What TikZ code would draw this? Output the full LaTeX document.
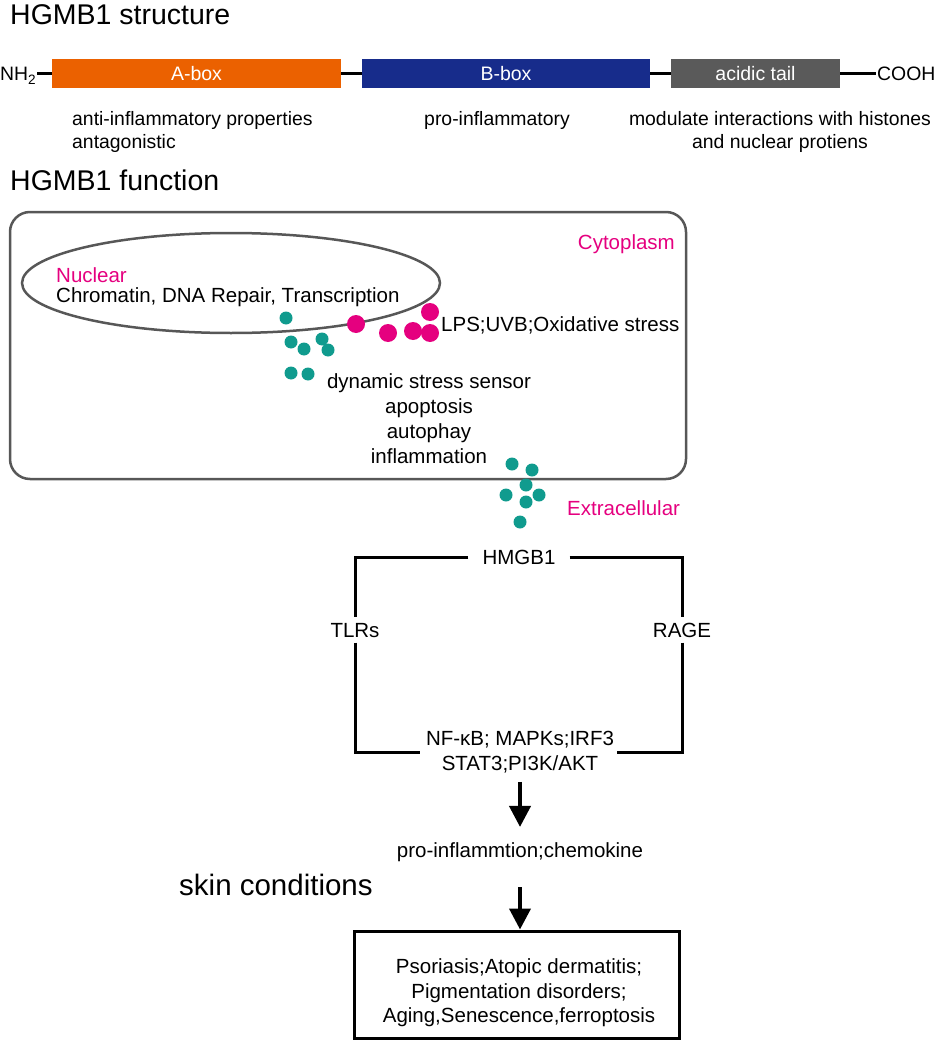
\documentclass[tikz,border=0pt]{standalone}
\usepackage{fontspec}
\setmainfont{Liberation Sans}
\usetikzlibrary{arrows.meta}
\definecolor{aorange}{HTML}{EB6100}
\definecolor{bblue}{HTML}{172C8B}
\definecolor{tgray}{HTML}{5A5A5A}
\definecolor{mag}{HTML}{E5007F}
\definecolor{tealdot}{HTML}{109B8E}
\definecolor{cellgray}{HTML}{575757}
\begin{document}
\begin{tikzpicture}[x=1pt,y=-1pt,
  ttl/.style={font=\fontsize{28.5}{34}\selectfont, anchor=base west, inner sep=0pt},
  txt/.style={font=\fontsize{20.5}{24}\selectfont, inner sep=0pt},
  lbl/.style={font=\fontsize{19.4}{23}\selectfont, inner sep=0pt},
  dom/.style={minimum height=29pt, inner sep=0pt, text=white, font=\fontsize{19.5}{23}\selectfont},
  tdot/.style={circle, fill=tealdot, minimum size=13pt, inner sep=0pt},
  mdot/.style={circle, fill=mag, minimum size=18pt, inner sep=0pt},
  pink/.style={text=mag},
  bracket/.style={line width=3pt, black},
  bigarrow/.style={line width=4pt, -{Triangle[width=21pt,length=21pt]}}
]
\useasboundingbox (0,0) rectangle (936,1043);

% ---------- structure ----------
\node[ttl] (t1) at (10,25) {HGMB1 structure};
\node[lbl, anchor=base west] (nh) at (0,81) {NH\textsubscript{2}};
\node[lbl, anchor=base west] (cooh) at (877,81) {COOH};
\coordinate (pl) at (0,74);
\draw[line width=3pt] ([xshift=1pt]nh.east |- pl) -- ([xshift=-1pt]cooh.west |- pl);
\node[dom, fill=aorange, minimum width=289pt] (abox) at (196.5,73.5) {A-box};
\node[dom, fill=bblue, minimum width=288pt] (bbox) at (506,73.5) {B-box};
\node[dom, fill=tgray, minimum width=169pt] (tail) at (755.5,73.5) {acidic tail};

\node[lbl, anchor=base west] (la1) at (72,126) {anti-inflammatory properties};
\node[lbl, anchor=base west] (la2) at (72,149) {antagonistic};
\node[lbl, anchor=base] (lb1) at (497,126) {pro-inflammatory};
\node[lbl, anchor=base] (lc1) at (780,126) {modulate interactions with histones};
\node[lbl, anchor=base] (lc2) at (780,149) {and nuclear protiens};

% ---------- function ----------
\node[ttl] (t2) at (10,190) {HGMB1 function};
\node[draw=cellgray, line width=2.5pt, rounded corners=20pt, minimum width=676pt, minimum height=267pt, inner sep=0pt] (cell) at (348,345.5) {};
\draw[cellgray, line width=2.5pt] (231,283) ellipse [x radius=209pt, y radius=50pt];

\node[txt, pink, anchor=base east] (cyto) at (675,249) {Cytoplasm};
\node[txt, pink, anchor=base west] (nuc) at (56,282) {Nuclear};
\node[txt, anchor=base west] (chrom) at (56,302) {Chromatin, DNA Repair, Transcription};
\node[txt, anchor=base west] (lps) at (441,331) {LPS;UVB;Oxidative stress};

\node[txt, anchor=base] (f1) at (429,388) {dynamic stress sensor};
\node[txt, anchor=base] (f2) at (429,413) {apoptosis};
\node[txt, anchor=base] (f3) at (429,438) {autophay};
\node[txt, anchor=base] (f4) at (429,463) {inflammation};

% magenta dots
\node[mdot] (m1) at (356,324) {};
\node[mdot] (m2) at (388,333) {};
\node[mdot] (m3) at (413,331) {};
\node[mdot] (m4) at (430,312) {};
\node[mdot] (m5) at (430,333) {};
% teal dots inside
\node[tdot] (d1) at (286,318) {};
\node[tdot] (d2) at (291,342) {};
\node[tdot] (d3) at (304,349) {};
\node[tdot] (d4) at (322,339) {};
\node[tdot] (d5) at (328,350) {};
\node[tdot] (d6) at (291,373) {};
\node[tdot] (d7) at (308,374) {};
% teal dots extracellular
\node[tdot] (e1) at (512,464) {};
\node[tdot] (e2) at (532,470) {};
\node[tdot] (e3) at (526,485) {};
\node[tdot] (e4) at (506,495) {};
\node[tdot] (e5) at (526,502) {};
\node[tdot] (e6) at (539,495) {};
\node[tdot] (e7) at (520,522) {};

\node[txt, pink, anchor=base west] (extra) at (567,515) {Extracellular};

% ---------- signalling ----------
\node[txt, inner xsep=14pt, text height=15pt, text depth=0pt] (hmgb) at (519,557) {HMGB1};
\node[txt, inner ysep=5pt, text height=15pt, text depth=0pt] (tlrs) at (355,630) {TLRs};
\node[txt, inner ysep=5pt, text height=15pt, text depth=0pt] (rage) at (682,630) {RAGE};
\node[txt, anchor=base] (sig1) at (520,745) {NF-κB; MAPKs;IRF3};
\node[txt, anchor=base] (sig2) at (520,770) {STAT3;PI3K/AKT};
\coordinate (bl) at (420,752);
\coordinate (br) at (617,752);
\draw[bracket] (hmgb.west) -| (tlrs.north);
\draw[bracket] (tlrs.south) |- (bl);
\draw[bracket] (hmgb.east) -| (rage.north);
\draw[bracket] (rage.south) |- (br);

\node[txt, anchor=base] (pro) at (520,857) {pro-inflammtion;chemokine};
\draw[bigarrow, shorten <=9pt, shorten >=15pt] (sig2.south -| pro.north) -- (pro.north);

\node[ttl, font=\fontsize{29.5}{34}\selectfont] (skin) at (179,895) {skin conditions};
\node[draw, line width=3pt, minimum width=325pt, minimum height=107pt, inner sep=0pt] (sbox) at (516.5,984.5) {};
\node[txt, anchor=base] (s1) at (519,973) {Psoriasis;Atopic dermatitis;};
\node[txt, anchor=base] (s2) at (519,998) {Pigmentation disorders;};
\node[txt, anchor=base] (s3) at (519,1022) {Aging,Senescence,ferroptosis};
\draw[bigarrow, shorten <=26pt, shorten >=0pt] (pro.south) -- (pro.south |- sbox.north);
\end{tikzpicture}
\end{document}
